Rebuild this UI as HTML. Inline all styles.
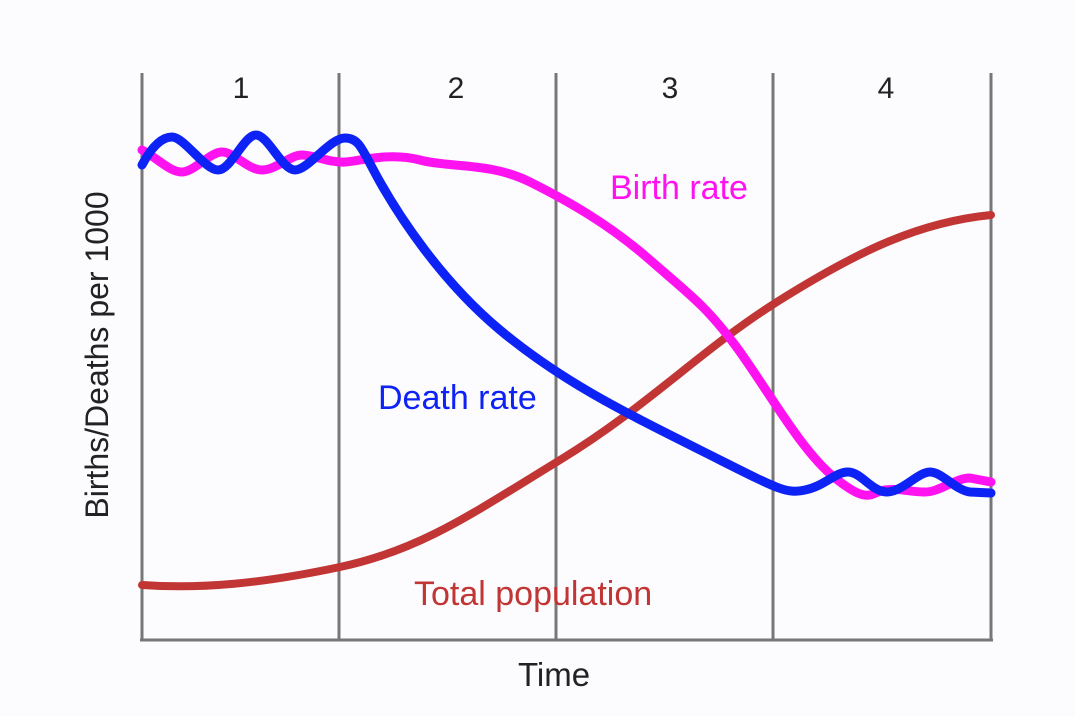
<!DOCTYPE html>
<html><head><style>
html,body{margin:0;padding:0;background:#fcfbfd;}
svg{display:block;font-family:"Liberation Sans",sans-serif;}
</style></head><body>
<svg width="1075" height="716" viewBox="0 0 1075 716">
<rect width="1075" height="716" fill="#fcfbfd"/>
<g stroke="#777" stroke-width="3">
<line x1="142" y1="73" x2="142" y2="641"/>
<line x1="339" y1="73" x2="339" y2="641"/>
<line x1="556" y1="73" x2="556" y2="641"/>
<line x1="773" y1="73" x2="773" y2="641"/>
<line x1="991" y1="73" x2="991" y2="641"/>
<line x1="140" y1="640" x2="993" y2="640"/>
</g>
<g font-size="30" fill="#222" text-anchor="middle">
<text x="241" y="98">1</text><text x="456" y="98">2</text><text x="670" y="98">3</text><text x="886" y="98">4</text>
<text x="554" y="686" font-size="33">Time</text>
<text transform="translate(108,355) rotate(-90)" font-size="32">Births/Deaths per 1000</text>
</g>
<g fill="none" stroke-linecap="round" stroke-linejoin="round">
<path d="M142,585 C200,589 260,584 340,567 S470,515 560,460 S700,350 780,300 S920,222 991,215" stroke="#c23535" stroke-width="8"/>
<path d="M142,150 C160,160 170,172 182,172 S210,152 222,152 S248,170 262,170 S290,155 302,155 S330,163 345,162 S390,152 420,160 S490,162 530,182 S610,225 650,260 S705,305 735,345 S800,450 835,478 S870,492 885,490 S910,492 925,492 S955,478 970,478 L991,482" stroke="#ff12f0" stroke-width="9"/>
<path d="M142,165 C150,150 160,137 172,137 S205,170 218,170 S244,135 256,135 S282,170 295,170 S330,138 345,138 S362,150 380,182 S440,280 500,330 S620,410 700,450 S785,494 805,490 S835,472 848,472 S872,492 887,492 S918,472 930,472 S955,490 970,492 L991,493" stroke="#0d22f5" stroke-width="9"/>
</g>
<g font-size="34">
<text x="610" y="199" fill="#ff12f0">Birth rate</text>
<text x="378" y="409" fill="#0d22f5">Death rate</text>
<text x="414" y="605" fill="#c23535">Total population</text>
</g>
</svg>
</body></html>
